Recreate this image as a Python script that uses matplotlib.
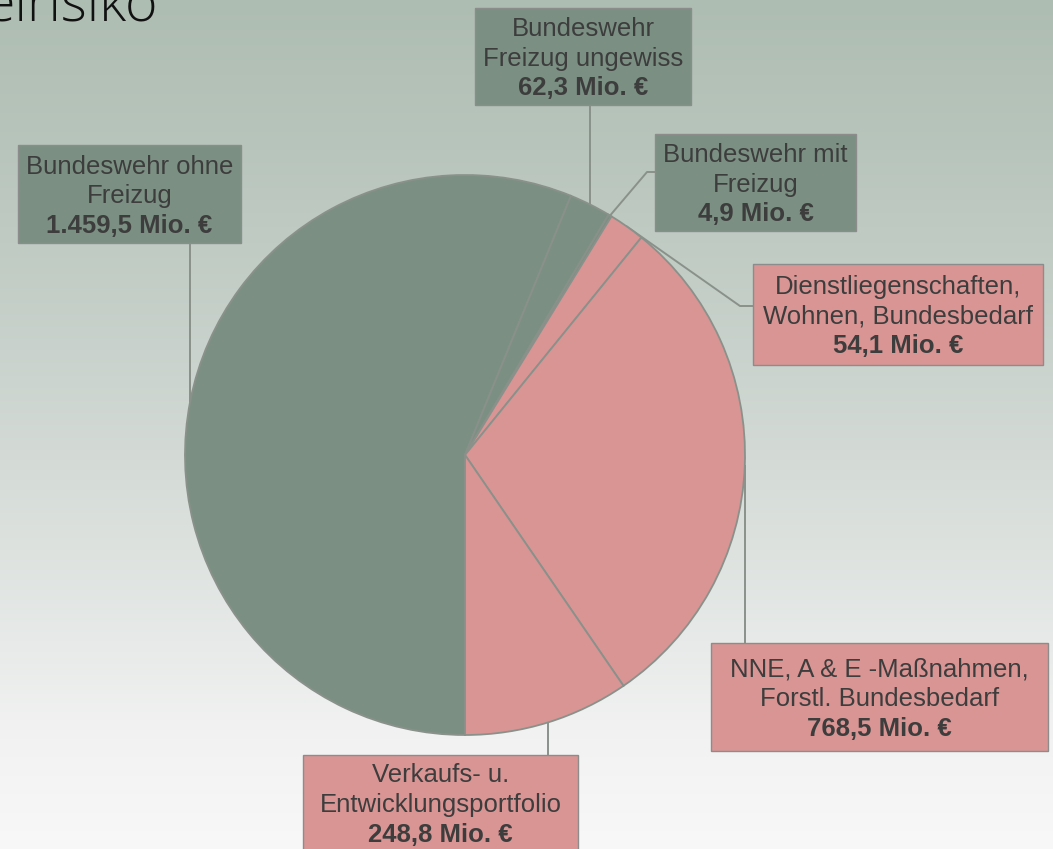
import numpy as np
import matplotlib.pyplot as plt
from matplotlib.patches import Rectangle

# Daten
names = [["Bundeswehr ohne", "Freizug"],
         ["Bundeswehr", "Freizug ungewiss"],
         ["Bundeswehr mit", "Freizug"],
         ["Dienstliegenschaften,", "Wohnen, Bundesbedarf"],
         ["NNE, A & E -Maßnahmen,", "Forstl. Bundesbedarf"],
         ["Verkaufs- u.", "Entwicklungsportfolio"]]
values = [1459.5, 62.3, 4.9, 54.1, 768.5, 248.8]
groups = ["bw", "bw", "bw", "bima", "bima", "bima"]

GREEN = "#7b9083"
PINK = "#d99594"
EDGE = "#8a918b"
TXT = "#3d3d3d"

# Layout der Beschriftungskästen (x, y oben, Breite, Höhe) in Pixeln
boxes = [(18, 145, 223, 98), (475, 8, 216, 97), (655, 134, 201, 97),
         (753, 264, 290, 101), (711, 643, 337, 108), (303, 755, 275, 96)]


def fmt(v):
    s = f"{v:,.1f}"
    return s.replace(",", "X").replace(".", ",").replace("X", ".") + " Mio. €"


W, H = 1053, 849
fig = plt.figure(figsize=(W / 100, H / 100), dpi=100)
ax = fig.add_axes([0, 0, 1, 1])

# Hintergrund-Verlauf
ys = np.arange(H)
stops_y = [0, 150, 350, 550, 720, 849]
stops_c = np.array([[174, 189, 178], [184, 197, 188], [201, 210, 204],
                    [221, 226, 223], [240, 241, 240], [248, 248, 248]]) / 255
grad = np.stack([np.interp(ys, stops_y, stops_c[:, k]) for k in range(3)], axis=1)
grad = np.repeat(grad[:, None, :], 2, axis=1)
ax.imshow(grad, extent=[0, W, H, 0], aspect="auto", zorder=0)

cx, cy, r = 465, 455, 280
colors = [GREEN if g == "bw" else PINK for g in groups]
wedges, _ = ax.pie(values, colors=colors, startangle=90, counterclock=True,
                   center=(cx, cy), radius=r,
                   wedgeprops=dict(edgecolor=EDGE, linewidth=1.3, zorder=3))
for w in wedges:
    w.set_zorder(3)

ax.set_xlim(0, W)
ax.set_ylim(H, 0)
ax.set_aspect("auto")
ax.axis("off")

for i, w in enumerate(wedges):
    mid = np.deg2rad((w.theta1 + w.theta2) / 2)
    px, py = cx + r * np.cos(mid), cy + r * np.sin(mid)
    bx, by, bw, bh = boxes[i]
    # Führungslinien
    if i in (0, 1):
        xs, yv = [px, px], [py, by + bh]
    elif i in (4, 5):
        xs, yv = [px, px], [py, by]
    elif i == 2:
        xs, yv = [px, bx - 8, bx], [py, 172, 172]
    else:
        xs, yv = [px, bx - 13, bx], [py, 306, 306]
    ax.plot(xs, yv, color=EDGE, lw=1.4, zorder=2)

    ax.add_patch(Rectangle((bx, by), bw, bh, facecolor=colors[i],
                           edgecolor="#8c8c8c", lw=1.0, zorder=4))
    lines = names[i] + [fmt(values[i])]
    ymid = by + bh / 2 if i != 5 else 803
    for k, line in enumerate(lines):
        ax.text(bx + bw / 2, ymid + (k - 1) * 29.5 + 9, line,
                ha="center", va="baseline", fontsize=18.5, color=TXT,
                family=["Liberation Sans", "DejaVu Sans"],
                fontweight="bold" if k == 2 else "normal", zorder=5)

ax.text(158, 20, "eirisiko", ha="right", va="baseline", fontsize=40,
        family=["Open Sans", "DejaVu Sans"], fontweight="light", color="#111111")

fig.savefig("out.png", dpi=100)
